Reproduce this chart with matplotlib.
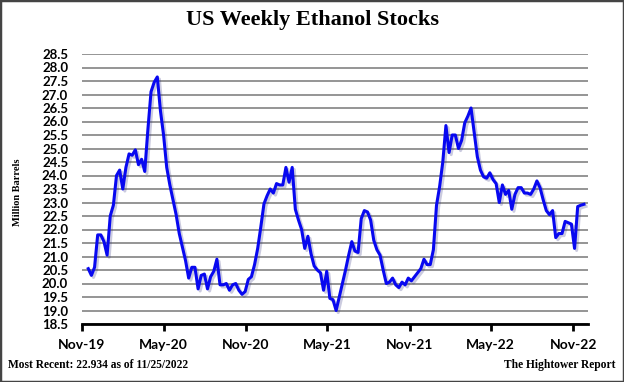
import numpy as np
import pandas as pd
import matplotlib
matplotlib.use("Agg")
import matplotlib.pyplot as plt
import matplotlib.dates as mdates
import matplotlib.patheffects as pe
from matplotlib.patches import Rectangle

# weekly ethanol stocks, million barrels (11/15/2019 .. 11/25/2022)
stocks = [
    20.55, 20.3, 20.6, 21.8, 21.8, 21.55, 21.05, 22.5, 22.9, 24.0,
    24.2, 23.5, 24.3, 24.8, 24.75, 24.95, 24.4, 24.6, 24.15, 25.7,
    27.1, 27.45, 27.65, 26.4, 25.5, 24.3, 23.65, 23.1, 22.55, 21.85,
    21.35, 20.85, 20.2, 20.6, 20.6, 19.8, 20.3, 20.35, 19.8, 20.25,
    20.45, 20.9, 19.95, 19.95, 20.0, 19.75, 19.95, 20.0, 19.75, 19.6,
    19.7, 20.15, 20.25, 20.7, 21.3, 22.1, 22.95, 23.25, 23.5, 23.35,
    23.7, 23.65, 23.65, 24.3, 23.75, 24.3, 22.75, 22.35, 22.0, 21.3,
    21.75, 21.1, 20.65, 20.5, 20.4, 19.75, 20.45, 19.45, 19.4, 19.0,
    19.5, 20.0, 20.5, 21.05, 21.55, 21.2, 21.15, 22.4, 22.7, 22.65,
    22.35, 21.6, 21.25, 21.05, 20.5, 20.0, 20.05, 20.2, 19.95, 19.85,
    20.05, 19.95, 20.2, 20.1, 20.25, 20.4, 20.55, 20.9, 20.7, 20.7,
    21.25, 22.9, 23.6, 24.5, 25.85, 24.85, 25.5, 25.5, 25.0, 25.3,
    25.95, 26.2, 26.5, 25.6, 24.7, 24.2, 23.95, 23.9, 24.1, 23.85,
    23.7, 23.0, 23.65, 23.3, 23.45, 22.75, 23.3, 23.55, 23.55, 23.35,
    23.35, 23.3, 23.5, 23.8, 23.55, 23.1, 22.7, 22.55, 22.7, 21.7,
    21.85, 21.85, 22.3, 22.25, 22.2, 21.3, 22.85, 22.9, 22.934,
]
last_date = "2022-11-25"
dates = pd.date_range(end=last_date, periods=len(stocks), freq="7D")

x_ticks = pd.to_datetime(["2019-11-01", "2020-05-01", "2020-11-01", "2021-05-01",
                          "2021-11-01", "2022-05-01", "2022-11-01"])
y_ticks = np.arange(18.5, 28.51, 0.5)

serif = ["Liberation Serif", "DejaVu Serif"]
sans = ["Lato", "DejaVu Sans"]

fig = plt.figure(figsize=(6.24, 3.82), dpi=100)
ax = fig.add_axes([82 / 624, 1 - 324 / 382, 506 / 624, 270 / 382])

ax.plot(dates, stocks, color="#0808f0", lw=2.2, solid_joinstyle="round",
        path_effects=[pe.SimpleLineShadow(offset=(1.5, -1.5), alpha=0.25, shadow_color="#303080"),
                      pe.Normal()], zorder=3)

ax.set_ylim(18.5, 28.5)
ax.set_xlim(pd.Timestamp("2019-11-01"), pd.Timestamp("2022-12-04"))
ax.set_yticks(y_ticks)
ax.set_yticklabels([f"{v:.1f}" for v in y_ticks], family=sans, fontweight="bold", fontsize=9.5)
ax.set_xticks(x_ticks)
ax.xaxis.set_major_formatter(mdates.DateFormatter("%b-%y"))
for lab in ax.get_xticklabels():
    lab.set_family(sans)
    lab.set_fontweight("bold")
    lab.set_fontsize(10)

ax.grid(axis="y", color="#8c8c8c", lw=1.3)
ax.set_axisbelow(True)
for s in ["top", "right", "left"]:
    ax.spines[s].set_visible(False)
ax.spines["bottom"].set_linewidth(2)
ax.tick_params(axis="y", length=0, pad=10)
ax.tick_params(axis="x", length=5, width=2, direction="out", pad=6)

fig.text(17 / 624, 1 - 192 / 382, "Million Barrels", rotation=90, ha="center", va="center",
         family=serif, fontweight="bold", fontsize=7.5)

fig.text(0.5, 0.947, "US Weekly Ethanol Stocks", ha="center", va="center",
         family=serif, fontweight="bold", fontsize=16)
fig.text(8 / 624, 1 - 365 / 382, "Most Recent: 22.934 as of 11/25/2022", ha="left", va="center",
         family=serif, fontweight="bold", fontsize=8.3)
fig.text(616 / 624, 1 - 365 / 382, "The Hightower Report", ha="right", va="center",
         family=serif, fontweight="bold", fontsize=8.3)

fig.patches.append(Rectangle((0, 0), 1, 1, transform=fig.transFigure, fill=False,
                             edgecolor="#444444", lw=2.5))

fig.savefig("out.png", dpi=100)
